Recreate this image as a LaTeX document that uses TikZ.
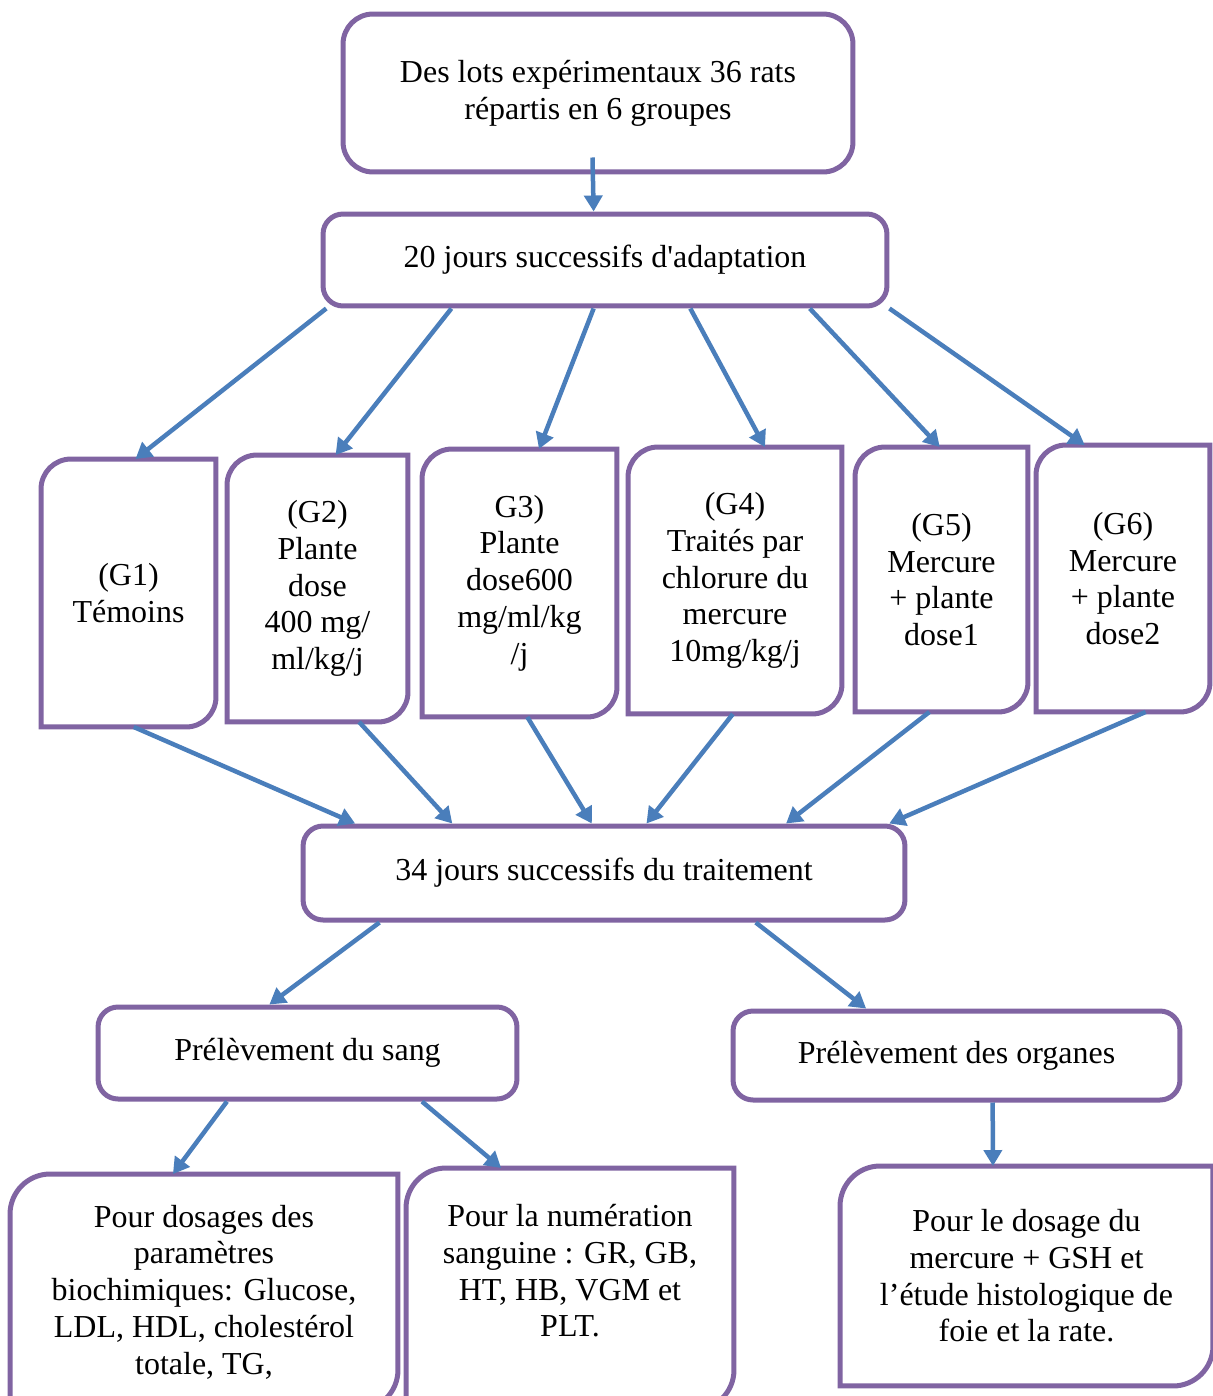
\documentclass[tikz,border=0pt]{standalone}
\usepackage{fontspec}
\setmainfont{Liberation Serif}
\usetikzlibrary{arrows.meta,calc}
\definecolor{boxpurple}{HTML}{8064A2}
\definecolor{flowblue}{HTML}{4A7EBB}

\begin{document}
\begin{tikzpicture}[x = 0.02cm, y = -0.02cm,
            every node/.style = {align = center, font = \fontsize{18.2}{20.9}\selectfont},
            roundbox/.style = {draw = boxpurple, line width = 0.1cm, rounded corners = #1},
            roundbox/.default = 0.4cm,
            leaf/.style = {inner sep = 0pt, outer sep = 0pt},
            leafline/.style = {draw = boxpurple, line width = 0.1cm},
            flow/.style = {draw = flowblue, line width = 0.09cm, -{Triangle[length = 0.32cm, width = 0.36cm]}}]
            \useasboundingbox (0,0) rectangle (1213,1396);
            \node[roundbox = 0.6cm, minimum width = 10.2cm, minimum height = 3.16cm] (lots) at (598,93)
                {Des lots expérimentaux 36 rats\\répartis en 6 groupes};
            \node[roundbox, minimum width = 11.28cm, minimum height = 1.84cm] (adapt) at (605,260)
                {20 jours successifs d\textquotesingle adaptation};
            \node[leaf, minimum width = 3.5cm, minimum height = 5.36cm] (g1) at (128.5,593) {(G1)\\Témoins};
            \node[leaf, minimum width = 3.62cm, minimum height = 5.34cm] (g2) at (317.5,588.5)
                {(G2)\\Plante\\dose\\400 mg/\\ml/kg/j};
            \node[leaf, minimum width = 3.9cm, minimum height = 5.36cm] (g3) at (519.5,583)
                {G3)\\Plante\\dose600\\mg/ml/kg\\/j};
            \node[leaf, minimum width = 4.28cm, minimum height = 5.34cm] (g4) at (735,580.5)
                {(G4)\\Traités par\\chlorure du\\mercure\\10mg/kg/j};
            \node[leaf, minimum width = 3.46cm, minimum height = 5.3cm] (g5) at (941.5,579.5)
                {(G5)\\Mercure\\+ plante\\dose1};
            \node[leaf, minimum width = 3.48cm, minimum height = 5.34cm] (g6) at (1123,578.5)
                {(G6)\\Mercure\\+ plante\\dose2};
            \node[roundbox, minimum width = 12.04cm, minimum height = 1.88cm] (traitement) at (604,873)
                {34 jours successifs du traitement};
            \node[roundbox, minimum width = 8.38cm, minimum height = 1.84cm] (sang) at (307.5,1053)
                {Prélèvement du sang};
            \node[roundbox, minimum width = 8.94cm, minimum height = 1.78cm] (organes) at (956.5,1055.5)
                {Prélèvement des organes};
            \node[leaf, minimum width = 7.76cm, minimum height = 4.72cm] (dbio) at (204,1292)
                {Pour dosages des\\paramètres\\biochimiques: Glucose,\\LDL, HDL, cholestérol\\totale, TG,};
            \node[leaf, minimum width = 6.56cm, minimum height = 4.84cm] (dnum) at (570,1289)
                {Pour la numération\\sanguine : GR, GB,\\HT, HB, VGM et\\PLT.\\ \mbox{}};
            \node[leaf, minimum width = 7.46cm, minimum height = 4.4cm] (dorg) at (1026.5,1276)
                {Pour le dosage du\\mercure + GSH et\\l’étude histologique de\\foie et la rate.};
            \foreach \n in {g1,g2,g3,g4,g5,g6}
                \draw[leafline] (\n.west) [rounded corners = 0.6cm] |- (\n.north) [sharp corners] -| (\n.east)
                    [rounded corners = 0.6cm] |- (\n.south) [sharp corners] -| (\n.west) -- cycle;
            \foreach \n in {dbio,dnum,dorg}
                \draw[leafline] (\n.west) [rounded corners = 0.8cm] |- (\n.north) [sharp corners] -| (\n.east)
                    [rounded corners = 0.8cm] |- (\n.south) [sharp corners] -| (\n.west) -- cycle;
            \draw[flow, shorten <= -0.34cm] ($(lots.south west)!.49!(lots.south east)$)
                -- ($(adapt.north west)!.48!(adapt.north east)$);
            \foreach \g/\a/\b in {g1/.01/.54, g2/.23/.6, g3/.48/.6, g4/.65/.64, g5/.86/.49, g6/1/.28}
                \draw[flow] ($(adapt.south west)!\a!(adapt.south east)$) -- ($(\g.north west)!\b!(\g.north east)$);
            \foreach \g/\a/\b in {g1/.53/.09, g2/.73/.25, g3/.54/.48, g4/.49/.57, g5/.43/.8, g6/.63/.97}
                \draw[flow] ($(\g.south west)!\a!(\g.south east)$) -- ($(traitement.north west)!\b!(traitement.north east)$);
            \draw[flow] ($(traitement.south west)!.13!(traitement.south east)$) -- ($(sang.north west)!.41!(sang.north east)$);
            \draw[flow] ($(traitement.south west)!.75!(traitement.south east)$) -- ($(organes.north west)!.3!(organes.north east)$);
            \draw[flow] ($(sang.south west)!.31!(sang.south east)$) -- ($(dbio.north west)!.42!(dbio.north east)$);
            \draw[flow] ($(sang.south west)!.77!(sang.south east)$) -- ($(dnum.north west)!.29!(dnum.north east)$);
            \draw[flow] ($(organes.south west)!.58!(organes.south east)$) -- ($(dorg.north west)!.41!(dorg.north east)$);
        \end{tikzpicture}
\end{document}
